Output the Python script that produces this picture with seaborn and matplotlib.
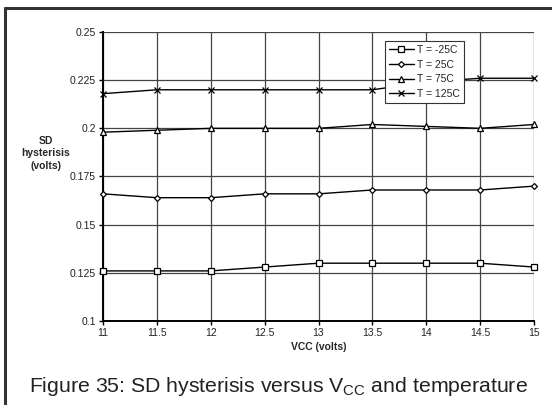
import seaborn as sns
import matplotlib.pyplot as plt
from matplotlib.lines import Line2D

# Data
vcc = [11, 11.5, 12, 12.5, 13, 13.5, 14, 14.5, 15]
t_minus25 = [0.126, 0.126, 0.126, 0.128, 0.130, 0.130, 0.130, 0.130, 0.128]
t_25 = [0.166, 0.164, 0.164, 0.166, 0.166, 0.168, 0.168, 0.168, 0.170]
t_75 = [0.198, 0.199, 0.200, 0.200, 0.200, 0.202, 0.201, 0.200, 0.202]
t_125 = [0.218, 0.220, 0.220, 0.220, 0.220, 0.220, 0.224, 0.226, 0.226]

labels = ['T = -25C', 'T = 25C', 'T = 75C', 'T = 125C']
series = [t_minus25, t_25, t_75, t_125]
markers = ['s', 'D', '^', 'x']
marker_sizes = [5, 3, 4.5, 5]

xtick_labels = ['11', '11.5', '12', '12.5', '13', '13.5', '14', '14.5', '15']
yticks = [0.1, 0.125, 0.15, 0.175, 0.2, 0.225, 0.25]
ytick_labels = ['0.1', '0.125', '0.15', '0.175', '0.2', '0.225', '0.25']

sns.set_style("white")
plt.rcParams['font.family'] = ['Liberation Sans', 'DejaVu Sans']
plt.rcParams['mathtext.fontset'] = 'custom'
plt.rcParams['mathtext.rm'] = 'Liberation Sans'

fig = plt.figure(figsize=(5.52, 4.05), dpi=100)
ax = fig.add_axes([0.1866, 0.2074, 0.7808, 0.7136])

# Grid
ax.set_xticks(vcc)
ax.set_yticks(yticks)
ax.grid(True, color='#444444', linewidth=0.9)
ax.set_axisbelow(True)

# Plot each temperature series
for vals, lab, m, ms in zip(series, labels, markers, marker_sizes):
    sns.lineplot(x=vcc, y=vals, ax=ax, color='black', linewidth=1.0,
                 marker=m, markersize=ms, markerfacecolor='white',
                 markeredgecolor='black', markeredgewidth=0.9,
                 label=lab, clip_on=False, zorder=3)

ax.set_xlim(11, 15)
ax.set_ylim(0.1, 0.25)
ax.set_xticklabels(xtick_labels)
ax.set_yticklabels(ytick_labels)

for side in ['top', 'right']:
    ax.spines[side].set_visible(False)
ax.spines['left'].set_linewidth(1.4)
ax.spines['bottom'].set_linewidth(1.4)
ax.spines['left'].set_color('black')
ax.spines['bottom'].set_color('black')
ax.tick_params(axis='both', which='both', direction='out', length=3,
               width=1, color='black', labelsize=7.5, pad=2,
               left=True, bottom=True, labelcolor='#222222')

ax.set_xlabel('VCC (volts)', fontsize=7.5, fontweight='bold', labelpad=3)
ax.set_ylabel('SD\nhysterisis\n(volts)', fontsize=7.5, fontweight='bold',
              rotation=0, ha='center', va='center', linespacing=1.3)
ax.yaxis.set_label_coords(-0.133, 0.58)

leg = ax.legend(loc='upper left', bbox_to_anchor=(0.655, 0.968),
                fontsize=7.5, frameon=True, fancybox=False, handlelength=2.4,
                handletextpad=0.3, borderpad=0.35, labelspacing=0.45,
                borderaxespad=0, framealpha=1)
leg.get_frame().set_edgecolor('#333333')
leg.get_frame().set_linewidth(0.8)
leg.set_zorder(10)

# Caption
fig.text(0.052, 0.032, r'Figure 35: SD hysterisis versus V$_{\mathrm{CC}}$ and temperature',
         fontsize=15.3, color='#222222', ha='left', va='baseline')

# Outer frame lines (left and top)
fig.add_artist(Line2D([0.0095, 0.0095], [0.0, 0.981], color='#333333',
                      linewidth=2.2, transform=fig.transFigure))
fig.add_artist(Line2D([0.0095, 1.0], [0.981, 0.981], color='#333333',
                      linewidth=2.2, transform=fig.transFigure))

plt.savefig('out.png', dpi=100)
